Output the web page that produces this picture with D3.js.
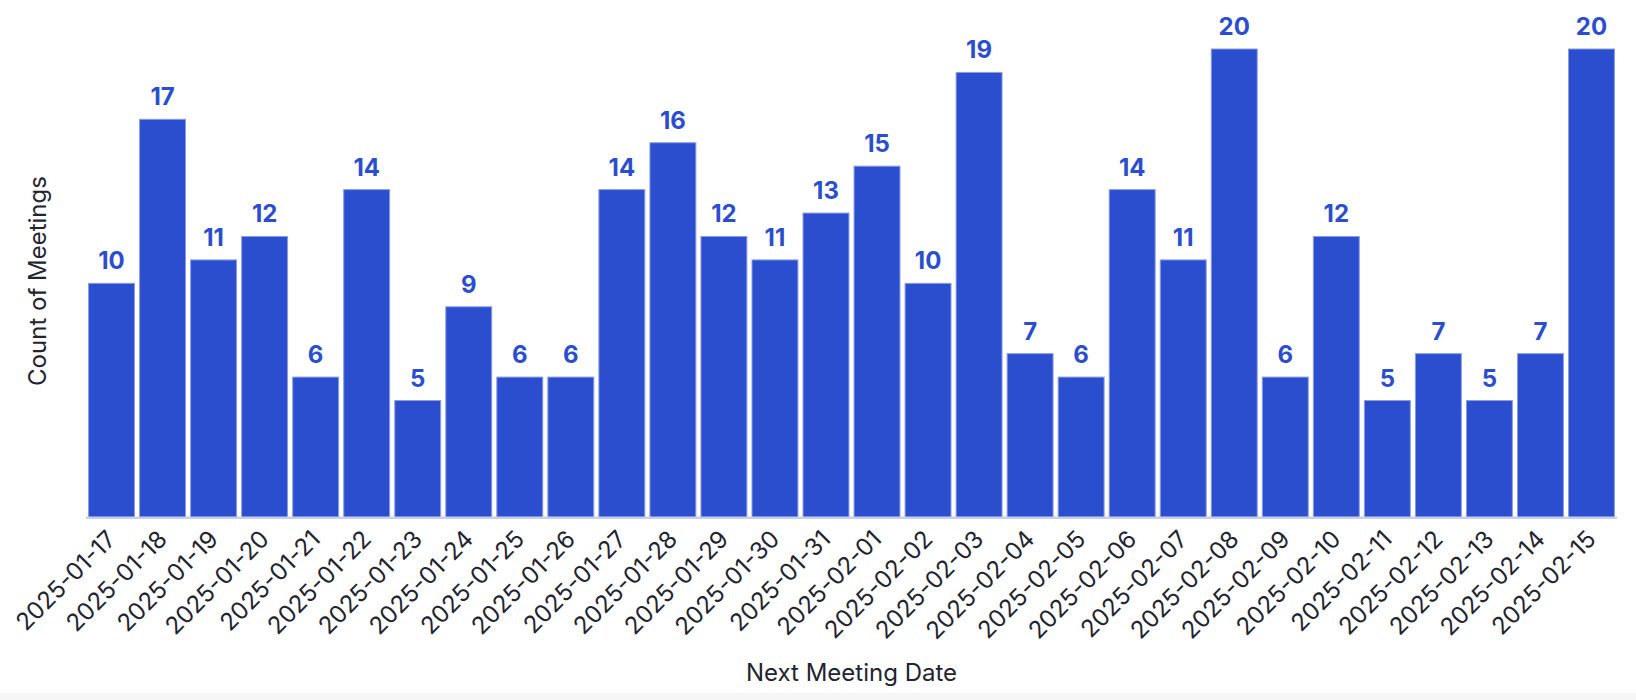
<!DOCTYPE html>
<html>
<head>
<meta charset="utf-8">
<script src="https://cdn.jsdelivr.net/npm/d3@7"></script>
<style>
  html, body { margin: 0; padding: 0; background: #ffffff; }
  svg { display: block; font-family: Inter, "Noto Sans", sans-serif; }
</style>
</head>
<body>
<svg id="chart" width="1636" height="700"></svg>
<script>
const dates = [
  "2025-01-17","2025-01-18","2025-01-19","2025-01-20","2025-01-21","2025-01-22",
  "2025-01-23","2025-01-24","2025-01-25","2025-01-26","2025-01-27","2025-01-28",
  "2025-01-29","2025-01-30","2025-01-31","2025-02-01","2025-02-02","2025-02-03",
  "2025-02-04","2025-02-05","2025-02-06","2025-02-07","2025-02-08","2025-02-09",
  "2025-02-10","2025-02-11","2025-02-12","2025-02-13","2025-02-14","2025-02-15"
];
const counts = [10,17,11,12,6,14,5,9,6,6,14,16,12,11,13,15,10,19,7,6,14,11,20,6,12,5,7,5,7,20];
const xTitle = "Next Meeting Date";
const yTitle = "Count of Meetings";

(function () {
const data = dates.map((d, i) => ({ date: d, count: counts[i] }));

const svg = d3.select("#chart");
const W = 1636, H = 700;
const mLeft = 86, mRight = 1617, mBottom = 517.7, mTop = 49;

svg.append("rect").attr("x", 0).attr("y", 693).attr("width", W).attr("height", H - 693).attr("fill", "#f6f6f7");

const x = d3.scaleBand().domain(dates).range([mLeft, mRight]).paddingInner(0.1).paddingOuter(0.05);
const y = d3.scaleLinear().domain([0, 20]).range([mBottom, mTop]);

const barColor = "#2b4ecf";

svg.append("g").selectAll("rect").data(data).join("rect")
  .attr("x", d => x(d.date))
  .attr("y", d => y(d.count))
  .attr("width", x.bandwidth())
  .attr("height", d => y(0) - y(d.count))
  .attr("fill", barColor)
  .attr("stroke", "#8a9ce6")
  .attr("stroke-width", 1);

svg.append("g").selectAll("text").data(data).join("text")
  .attr("x", d => x(d.date) + x.bandwidth() / 2)
  .attr("y", d => y(d.count) - 14)
  .attr("text-anchor", "middle")
  .attr("font-size", 24)
  .attr("font-weight", 700)
  .attr("fill", barColor)
  .text(d => d.count);

const xAxis = svg.append("g").attr("transform", `translate(0,${mBottom})`)
  .call(d3.axisBottom(x).tickSize(0).tickPadding(0));
xAxis.select(".domain").attr("stroke", "#c6d0ea").attr("stroke-width", 2.5)
  .attr("d", `M${mLeft},0H${mRight}`);
xAxis.selectAll(".tick text")
  .attr("font-family", "Inter, sans-serif")
  .attr("font-size", 24)
  .attr("fill", "#1f2430")
  .attr("text-anchor", "end")
  .attr("x", 0).attr("y", 0)
  .attr("dy", "0.35em")
  .attr("transform", "translate(0,17) rotate(-45)");

svg.append("text")
  .attr("x", (mLeft + mRight) / 2)
  .attr("y", 681)
  .attr("text-anchor", "middle")
  .attr("font-size", 24)
  .attr("fill", "#1f2430")
  .text(xTitle);

svg.append("text")
  .attr("transform", `translate(46,281) rotate(-90)`)
  .attr("text-anchor", "middle")
  .attr("font-size", 24)
  .attr("fill", "#1f2430")
  .text(yTitle);
})();
</script>
</body>
</html>
